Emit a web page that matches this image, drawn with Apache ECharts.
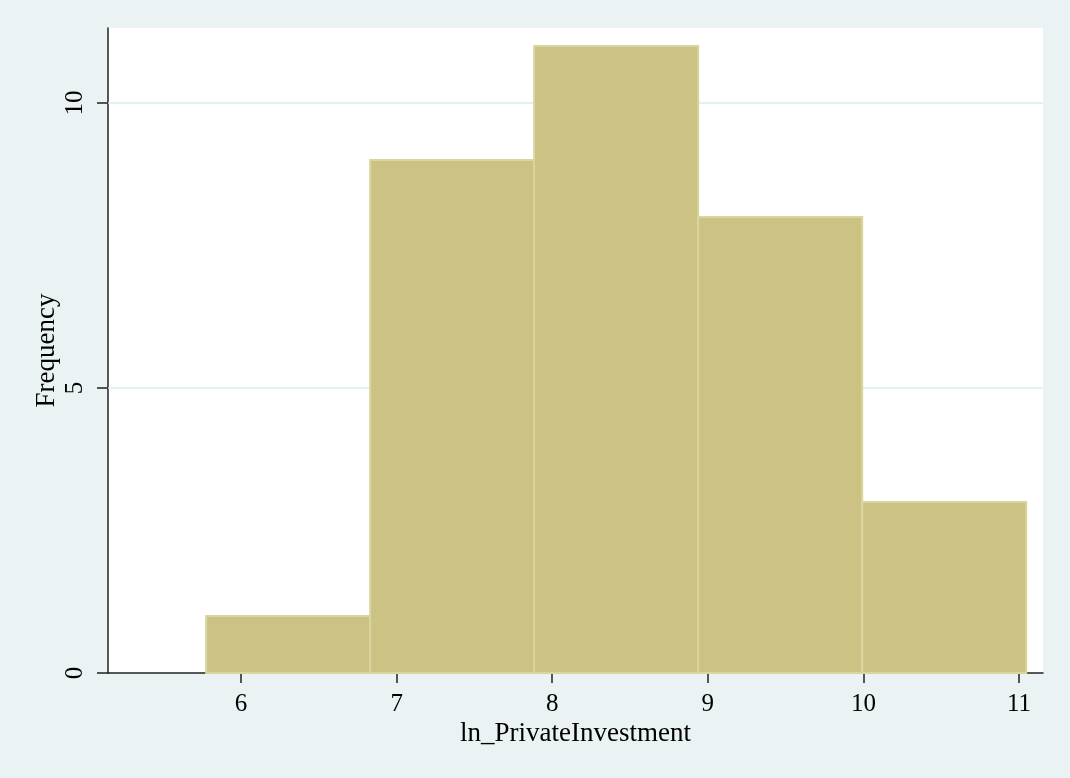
<!DOCTYPE html>
<html>
<head>
<meta charset="utf-8">
<script src="https://cdn.jsdelivr.net/npm/echarts@6/dist/echarts.min.js"></script>
<style>
html,body{margin:0;padding:0;background:#EAF2F3;}
#chart{width:1070px;height:778px;}
</style>
</head>
<body>
<div id="chart"></div>
<script>
// Histogram bins (ln_PrivateInvestment)
const binLower = [5.776, 6.830, 7.884, 8.938, 9.992];
const binUpper = [6.830, 7.884, 8.938, 9.992, 11.046];
const frequency = [1, 9, 11, 8, 3];
const xTicks = [6, 7, 8, 9, 10, 11];
const yTicks = [0, 5, 10];
const xTitle = 'ln_PrivateInvestment';
const yTitle = 'Frequency';

const font = '"Liberation Serif", "Times New Roman", serif';
const axisColor = '#222';

const data = binLower.map((lo, i) => [lo, binUpper[i], frequency[i]]);

const chart = echarts.init(document.getElementById('chart'));
chart.setOption({
  backgroundColor: '#EAF2F3',
  animation: false,
  grid: {
    left: 108, right: 27, top: 28, bottom: 105,
    show: true, backgroundColor: '#ffffff', borderWidth: 0
  },
  xAxis: {
    type: 'value',
    min: 5.145, max: 11.154,
    name: xTitle,
    nameLocation: 'middle',
    nameGap: 47,
    nameMoveOverlap: false,
    nameTextStyle: { fontFamily: font, fontSize: 27, color: '#000' },
    axisLine: { show: true, lineStyle: { color: axisColor, width: 1.5 } },
    axisTick: { show: true, length: 10, customValues: xTicks, lineStyle: { color: axisColor, width: 1.5 } },
    axisLabel: { customValues: xTicks, fontFamily: font, fontSize: 25, color: '#000', margin: 19 },
    splitLine: { show: false }
  },
  yAxis: {
    type: 'value',
    min: 0, max: 11.316,
    name: yTitle,
    nameLocation: 'middle',
    nameGap: 48,
    nameMoveOverlap: false,
    nameRotate: 90,
    nameTextStyle: { fontFamily: font, fontSize: 27, color: '#000' },
    axisLine: { show: true, lineStyle: { color: axisColor, width: 1.5 } },
    axisTick: { show: true, length: 11, customValues: yTicks, lineStyle: { color: axisColor, width: 1.5 } },
    axisLabel: { customValues: yTicks, rotate: 90, fontFamily: font, fontSize: 25, color: '#000', margin: 20 },
    splitLine: { show: false }
  },
  series: [{
    type: 'custom',
    data: data,
    encode: { x: [0, 1], y: 2 },
    renderItem: function (params, api) {
      const p0 = api.coord([api.value(0), api.value(2)]);
      const p1 = api.coord([api.value(1), 0]);
      return {
        type: 'rect',
        shape: { x: p0[0], y: p0[1], width: p1[0] - p0[0], height: p1[1] - p0[1] },
        style: { fill: '#CBC283', stroke: '#DAD49E', lineWidth: 2 },
        z2: 10
      };
    },
    markLine: {
      silent: true,
      symbol: 'none',
      label: { show: false },
      lineStyle: { color: '#DDEBEE', width: 1.5, type: 'solid' },
      z: 1,
      data: yTicks.filter(v => v > 0).map(v => ({ yAxis: v }))
    }
  }]
});
</script>
</body>
</html>
